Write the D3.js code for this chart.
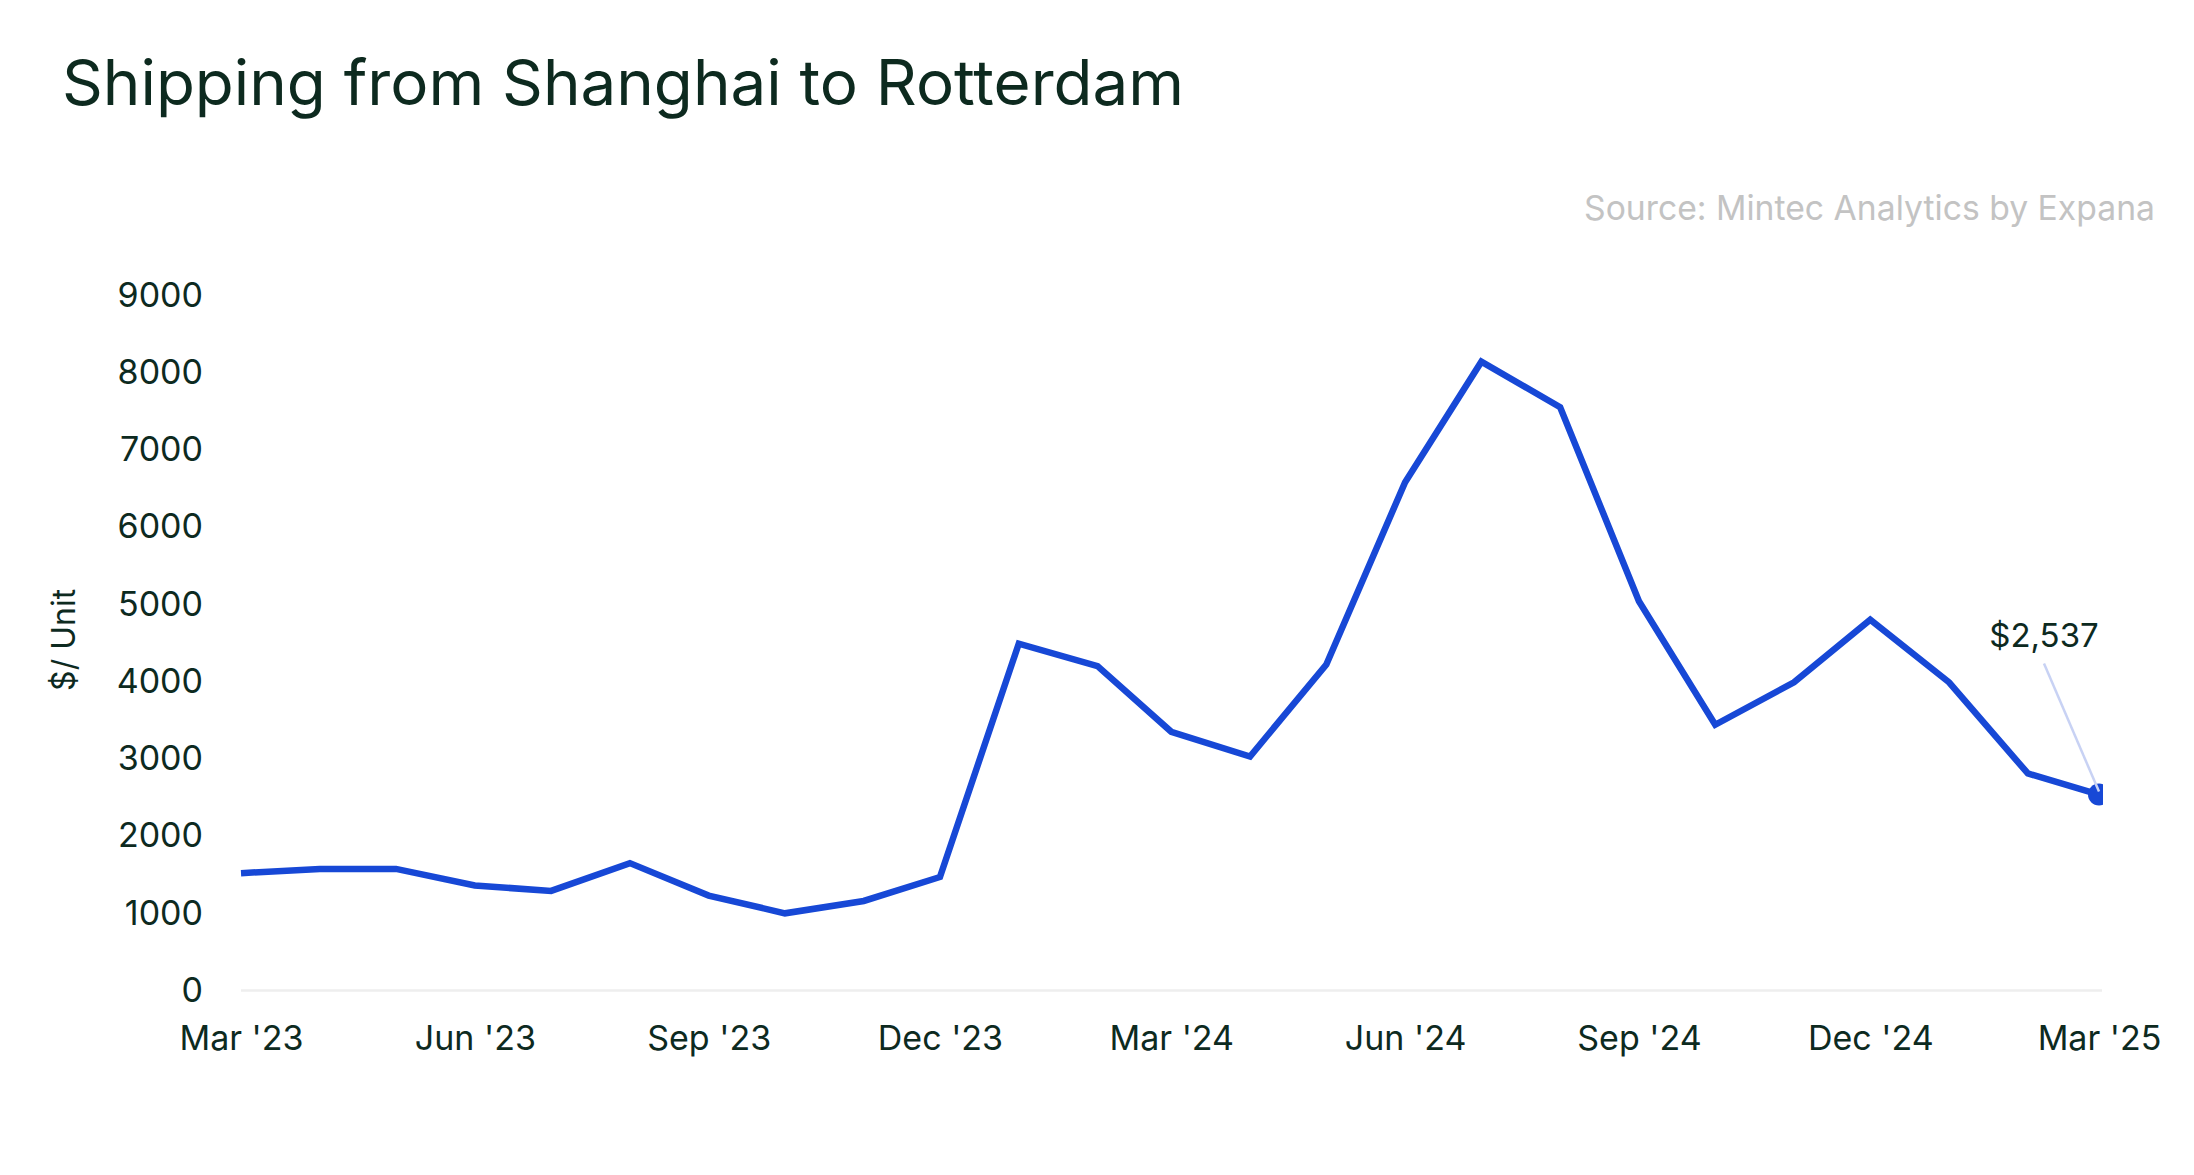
<!DOCTYPE html>
<html>
<head>
<meta charset="utf-8">
<script src="https://cdn.jsdelivr.net/npm/d3@7"></script>
<style>
  html, body { margin: 0; padding: 0; background: #ffffff; }
  svg { display: block; }
  text { font-family: Inter, "Noto Sans", sans-serif; }
</style>
</head>
<body>
<svg id="chart" width="2194" height="1175"></svg>
<script>
// ---- Data ----
const months = ["2023-03","2023-04","2023-05","2023-06","2023-07","2023-08","2023-09","2023-10","2023-11","2023-12",
                "2024-01","2024-02","2024-03","2024-04","2024-05","2024-06","2024-07","2024-08","2024-09","2024-10",
                "2024-11","2024-12","2025-01","2025-02","2025-03"];
const values = [1520, 1575, 1575, 1360, 1290, 1650, 1230, 1000, 1160, 1470,
                4490, 4200, 3350, 3030, 4220, 6580, 8140, 7550, 5040, 3440,
                3990, 4800, 3990, 2810, 2537];
const yTicks = [0, 1000, 2000, 3000, 4000, 5000, 6000, 7000, 8000, 9000];
const xTickLabels = ["Mar '23","Jun '23","Sep '23","Dec '23","Mar '24","Jun '24","Sep '24","Dec '24","Mar '25"];
const xTickMonths = ["2023-03","2023-06","2023-09","2023-12","2024-03","2024-06","2024-09","2024-12","2025-03"];
const titleText = "Shipping from Shanghai to Rotterdam";
const sourceText = "Source: Mintec Analytics by Expana";
const yAxisTitle = "$/ Unit";
const lastLabel = "$2,537";

// ---- Layout ----
const parse = d3.timeParse("%Y-%m");
const data = months.map((m, i) => ({ date: parse(m), value: values[i] }));
const svg = d3.select("#chart");
const plotLeft = 241, plotRight = 2099, plotTop = 295.2, plotBottom = 990.6;
const textColor = "#0d2a1f";
const lineColor = "#1748d6";

const x = d3.scaleTime().domain([parse(months[0]), parse(months[months.length - 1])]).range([plotLeft, plotRight]);
const y = d3.scaleLinear().domain([0, 9000]).range([plotBottom, plotTop]);

// Title
svg.append("text")
  .attr("x", 62).attr("y", 105)
  .attr("font-size", 63)
  .attr("fill", textColor)
  .attr("textLength", 1122)
  .attr("lengthAdjust", "spacingAndGlyphs")
  .text(titleText);

// Source
svg.append("text")
  .attr("x", 2155).attr("y", 220)
  .attr("text-anchor", "end")
  .attr("font-size", 34)
  .attr("fill", "#c3c3c3")
  .attr("textLength", 571)
  .attr("lengthAdjust", "spacingAndGlyphs")
  .text(sourceText);

// Baseline gridline
svg.append("line")
  .attr("x1", plotLeft).attr("x2", plotRight + 3)
  .attr("y1", y(0)).attr("y2", y(0))
  .attr("stroke", "#eeeeee").attr("stroke-width", 2.5);

// Y axis
const yAxis = d3.axisLeft(y).tickValues(yTicks).tickSize(0).tickPadding(38).tickFormat(d3.format("d"));
const yg = svg.append("g").attr("transform", `translate(${plotLeft},0)`).call(yAxis);
yg.select(".domain").remove();
yg.selectAll("text")
  .attr("font-family", "Inter, sans-serif")
  .attr("font-size", 34)
  .attr("fill", textColor);

// X axis
const xAxis = d3.axisBottom(x)
  .tickValues(xTickMonths.map(parse))
  .tickSize(0).tickPadding(35)
  .tickFormat((d, i) => xTickLabels[i]);
const xg = svg.append("g").attr("transform", `translate(0,${plotBottom})`).call(xAxis);
xg.select(".domain").remove();
xg.selectAll("text")
  .attr("font-family", "Inter, sans-serif")
  .attr("font-size", 34)
  .attr("fill", textColor);

// Y axis title
svg.append("text")
  .attr("transform", `translate(75,${(plotTop + plotBottom) / 2 - 3}) rotate(-90)`)
  .attr("text-anchor", "middle")
  .attr("font-size", 32)
  .attr("fill", textColor)
  .text(yAxisTitle);

// Clip for plot
svg.append("clipPath").attr("id", "plotclip")
  .append("rect").attr("x", plotLeft - 10).attr("y", 0).attr("width", plotRight - plotLeft + 14).attr("height", 1175);

// Line
const line = d3.line().x(d => x(d.date)).y(d => y(d.value));
svg.append("path")
  .datum(data)
  .attr("fill", "none")
  .attr("stroke", lineColor)
  .attr("stroke-width", 6.5)
  .attr("stroke-linejoin", "miter")
  .attr("d", line);

// Last point dot (clipped)
const last = data[data.length - 1];
svg.append("circle")
  .attr("clip-path", "url(#plotclip)")
  .attr("cx", x(last.date)).attr("cy", y(last.value))
  .attr("r", 11)
  .attr("fill", lineColor);

// Annotation
const lx = x(last.date), ly = y(last.value);
svg.append("line")
  .attr("x1", lx - 55).attr("y1", ly - 131)
  .attr("x2", lx).attr("y2", ly - 3)
  .attr("stroke", "#c8d2f4").attr("stroke-width", 2.5);
svg.append("text")
  .attr("x", lx - 55).attr("y", ly - 148)
  .attr("text-anchor", "middle")
  .attr("font-size", 33)
  .attr("fill", textColor)
  .text(lastLabel);
</script>
</body>
</html>
